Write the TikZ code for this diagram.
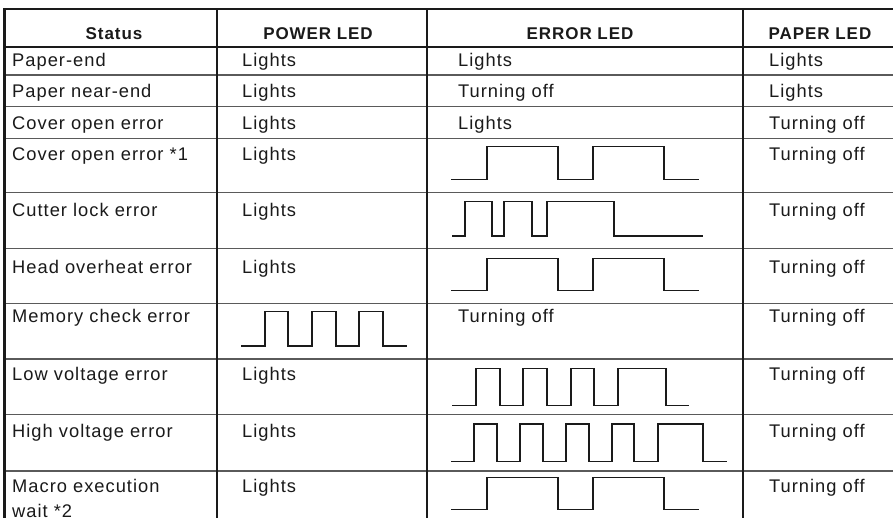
\documentclass[tikz,border=0pt]{standalone}
\usepackage{fontspec}
\setmainfont{Liberation Sans}[LetterSpace=5.5]
\definecolor{ink}{HTML}{1A1A1A}
\definecolor{rule}{HTML}{5A5A5A}
\begin{document}
\begin{tikzpicture}[x=1pt,y=-1pt,
  cell/.style={anchor=base west,inner sep=0pt,text=ink,font=\fontsize{18.3}{22}\selectfont},
  head/.style={anchor=base,inner sep=0pt,text=ink,font=\fontsize{17}{20}\selectfont\bfseries},
  frame/.style={line width=2.2pt,draw=ink},
  rowline/.style={line width=1.3pt,draw=rule},
  colline/.style={line width=1.2pt,draw=ink},
  wave/.style={line width=1.3pt,draw=ink,line join=miter}]
\useasboundingbox (0,0) rectangle (893,518);
\clip (0,0) rectangle (893,518);
\fill[white] (0,0) rectangle (893,518);
% grid
\foreach \y in {75,106.5,138.3,192.7,248.3,303.3,359,414.3,471}
  \draw[rowline] (4.5,\y) -- (893,\y);
\foreach \x in {217,427,743}
  \draw[colline] (\x,9) -- (\x,518);
\draw[frame] (4.5,530) -- (4.5,9) -- (893,9);
\draw[frame] (4.5,47) -- (893,47);
% header
\node[head] (hStatus) at (114,40) {Status};
\node[head] (hPower) at (318,40) {POWER LED};
\node[head] (hError) at (580,40) {ERROR LED};
\node[head] (hPaper) at (820,40) {PAPER LED};
% column 1
\node[cell] (s1) at (12,67) {Paper-end};
\node[cell] (s2) at (12,98) {Paper near-end};
\node[cell] (s3) at (12,129.5) {Cover open error};
\node[cell] (s4) at (12,161) {Cover open error *1};
\node[cell] (s5) at (12,217) {Cutter lock error};
\node[cell] (s6) at (12,273) {Head overheat error};
\node[cell] (s7) at (12,322) {Memory check error};
\node[cell] (s8) at (12,380) {Low voltage error};
\node[cell] (s9) at (12,437) {High voltage error};
\node[cell] (s10) at (12,492) {Macro execution};
\node[cell] (s10b) at (12,517) {wait *2};
% column 2
\node[cell] (p1) at (242,67) {Lights};
\node[cell] (p2) at (242,98) {Lights};
\node[cell] (p3) at (242,129.5) {Lights};
\node[cell] (p4) at (242,161) {Lights};
\node[cell] (p5) at (242,217) {Lights};
\node[cell] (p6) at (242,273) {Lights};
\node[cell] (p8) at (242,380) {Lights};
\node[cell] (p9) at (242,437) {Lights};
\node[cell] (p10) at (242,492) {Lights};
% column 3
\node[cell] (e1) at (458,67) {Lights};
\node[cell] (e2) at (458,98) {Turning off};
\node[cell] (e3) at (458,129.5) {Lights};
\node[cell] (e7) at (458,322) {Turning off};
% column 4
\node[cell] (q1) at (769,67) {Lights};
\node[cell] (q2) at (769,98) {Lights};
\node[cell] (q3) at (769,129.5) {Turning off};
\node[cell] (q4) at (769,161) {Turning off};
\node[cell] (q5) at (769,217) {Turning off};
\node[cell] (q6) at (769,273) {Turning off};
\node[cell] (q7) at (769,322) {Turning off};
\node[cell] (q8) at (769,380) {Turning off};
\node[cell] (q9) at (769,437) {Turning off};
\node[cell] (q10) at (769,492) {Turning off};
% waveforms
% Cover open error *1
\draw[wave] (451,179.3) -| (487,146.7) -| (558,179.3) -| (593,146.7) -| (664,179.3) -- (699,179.3);
% Cutter lock error
\draw[wave] (452,236) -| (465,201.7) -| (492,236) -| (504,201.7) -| (532,236) -| (547,201.7) -| (614,236) -- (703,236);
% Head overheat error
\draw[wave] (451,290.7) -| (487,258.3) -| (558,290.7) -| (593,258.3) -| (664,290.7) -- (699,290.7);
% Memory check error (POWER LED)
\draw[wave] (241,346) -| (265,311.7) -| (288,346) -| (312,311.7) -| (336,346) -| (359,311.7) -| (383,346) -- (407,346);
% Low voltage error
\draw[wave] (452,405.7) -| (476,368.3) -| (500,405.7) -| (523,368.3) -| (547,405.7) -| (571,368.3) -| (594,405.7) -| (618,368.3) -| (666,405.7) -- (689,405.7);
% High voltage error
\draw[wave] (451,461.7) -| (474,424) -| (497,461.7) -| (520,424) -| (543,461.7) -| (566,424) -| (589,461.7) -| (612,424) -| (634,461.7) -| (658,424) -| (703,461.7) -- (727,461.7);
% Macro execution wait *2
\draw[wave] (451,509.3) -| (487,477.3) -| (558,509.3) -| (593,477.3) -| (664,509.3) -- (699,509.3);
\end{tikzpicture}
\end{document}
